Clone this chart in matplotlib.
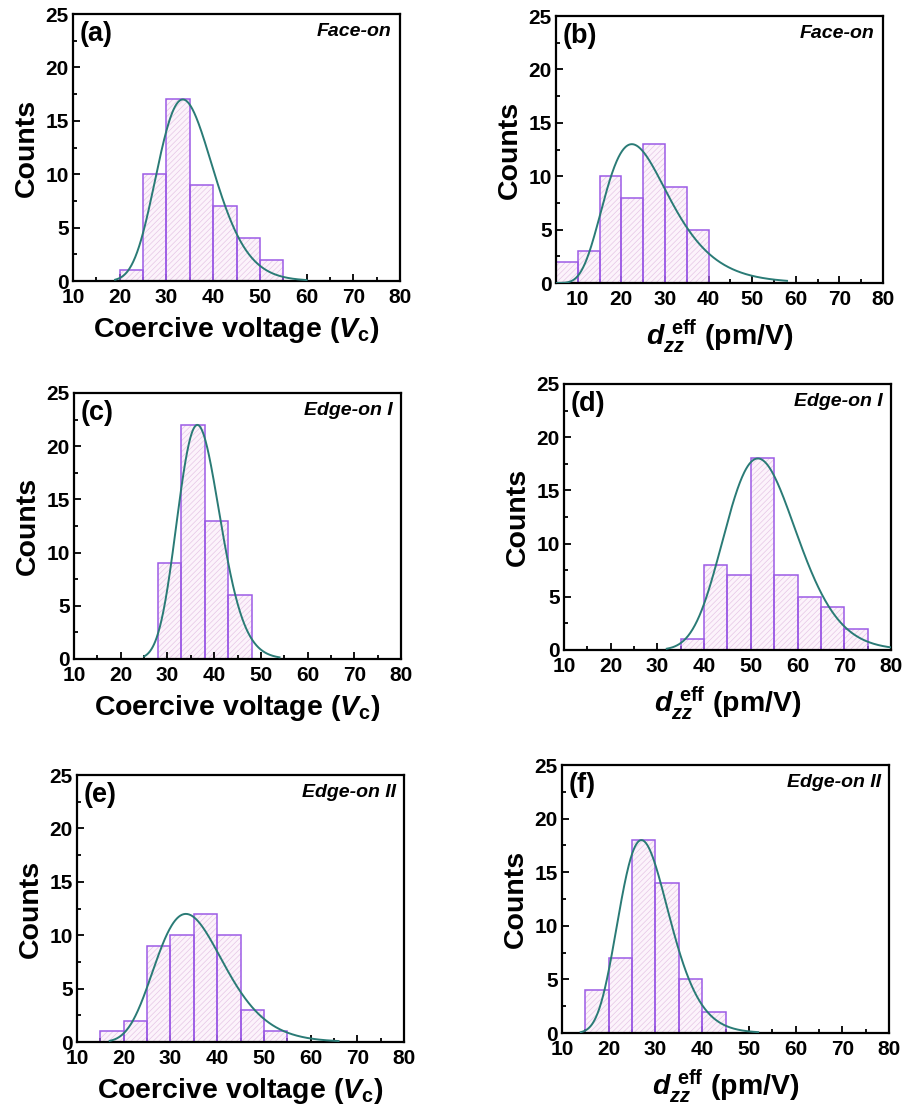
import numpy as np
import matplotlib
matplotlib.use("Agg")
import matplotlib.pyplot as plt

plt.rcParams['font.family'] = ['Liberation Sans', 'DejaVu Sans']
plt.rcParams['font.weight'] = 'bold'
plt.rcParams['mathtext.fontset'] = 'custom'
plt.rcParams['mathtext.rm'] = 'Liberation Sans:bold'
plt.rcParams['mathtext.bf'] = 'Liberation Sans:bold'
plt.rcParams['mathtext.it'] = 'Liberation Sans:italic:bold'
plt.rcParams['hatch.linewidth'] = 0.5

# histogram bins (left edges, width) and counts per panel
panels = ['(a)', '(b)', '(c)', '(d)', '(e)', '(f)']
tags = ['Face-on', 'Face-on', 'Edge-on I', 'Edge-on I', 'Edge-on II', 'Edge-on II']
bin_a = [20, 25, 30, 35, 40, 45, 50]
cnt_a = [1, 10, 17, 9, 7, 4, 2]
bin_b = [5, 10, 15, 20, 25, 30, 35]
cnt_b = [2, 3, 10, 8, 13, 9, 5]
bin_c = [28, 33, 38, 43]
cnt_c = [9, 22, 13, 6]
bin_d = [35, 40, 45, 50, 55, 60, 65, 70]
cnt_d = [1, 8, 7, 18, 7, 5, 4, 2]
bin_e = [15, 20, 25, 30, 35, 40, 45, 50]
cnt_e = [1, 2, 9, 10, 12, 10, 3, 1]
bin_f = [15, 20, 25, 30, 35, 40]
cnt_f = [4, 7, 18, 14, 5, 2]
bins = [bin_a, bin_b, bin_c, bin_d, bin_e, bin_f]
counts = [cnt_a, cnt_b, cnt_c, cnt_d, cnt_e, cnt_f]
bin_width = 5

# log-normal fit parameters: mode, peak height, log width
fit_mode = [33.5, 22.4, 36.4, 51.5, 33.3, 27.0]
fit_peak = [17, 13, 22, 18, 12, 18]
fit_w = [0.18, 0.33, 0.125, 0.15, 0.22, 0.20]
fit_range = [(19, 60), (5, 58), (25, 54), (32, 80), (17, 66), (14, 52)]

xlims = [(10, 80), (5, 80), (10, 80), (10, 80), (10, 80), (10, 80)]
xlabels = [r'Coercive voltage ($V_{\mathrm{c}}$)', r'$d_{zz}^{\ \mathrm{eff}}$ (pm/V)'] * 3

# axes boxes in figure fraction [left, bottom, width, height]
boxes = [[0.0808, 0.7473, 0.3617, 0.2401],
         [0.6150, 0.7455, 0.3617, 0.2401],
         [0.0819, 0.4074, 0.3617, 0.2392],
         [0.6239, 0.4155, 0.3617, 0.2392],
         [0.0852, 0.0629, 0.3617, 0.2401],
         [0.6217, 0.0710, 0.3617, 0.2410]]

edge_col = '#9C5BE6'
fill_col = '#FCF3FB'
hatch_col = '#E6C6E6'
curve_col = '#2A7B76'

fig = plt.figure(figsize=(9.04, 11.12), dpi=100)
for i in range(6):
    ax = fig.add_axes(boxes[i])
    left = np.array(bins[i])
    ax.bar(left, counts[i], width=bin_width, align='edge', color=fill_col,
           edgecolor=hatch_col, hatch='//////', linewidth=0, zorder=1)
    ax.bar(left, counts[i], width=bin_width, align='edge', fill=False,
           edgecolor=edge_col, linewidth=1.1, zorder=2)
    x = np.linspace(fit_range[i][0], fit_range[i][1], 400)
    y = fit_peak[i] * np.exp(-np.log(x / fit_mode[i]) ** 2 / (2 * fit_w[i] ** 2))
    ax.plot(x, y, color=curve_col, linewidth=1.4, zorder=3)

    ax.set_xlim(*xlims[i])
    ax.set_ylim(0, 25)
    ax.set_xticks(np.arange(10, 81, 10))
    ax.set_xticks(np.arange(15, 80, 10), minor=True)
    ax.set_yticks(np.arange(0, 26, 5))
    ax.set_yticks(np.arange(2.5, 25, 5), minor=True)
    ax.tick_params(which='both', direction='in', top=False, right=False,
                   labelsize=15, width=1.3)
    ax.tick_params(which='major', length=5)
    ax.tick_params(which='minor', length=3)
    ax.tick_params(axis='x', pad=5)
    ax.tick_params(axis='y', pad=3)
    for s in ax.spines.values():
        s.set_linewidth(1.6)
    for lab in ax.get_xticklabels() + ax.get_yticklabels():
        lab.set_fontweight('bold')
    ax.set_ylabel('Counts', fontsize=20.5, fontweight='bold', labelpad=4)
    ax.set_xlabel(xlabels[i], fontsize=20.5, fontweight='bold', labelpad=6)
    ax.text(0.02, 0.975, panels[i], transform=ax.transAxes, fontsize=19.5,
            fontweight='bold', va='top', ha='left')
    ax.text(0.975, 0.965, tags[i], transform=ax.transAxes, fontsize=14,
            fontweight='bold', style='italic', va='top', ha='right')

fig.savefig('out.png', dpi=100)
